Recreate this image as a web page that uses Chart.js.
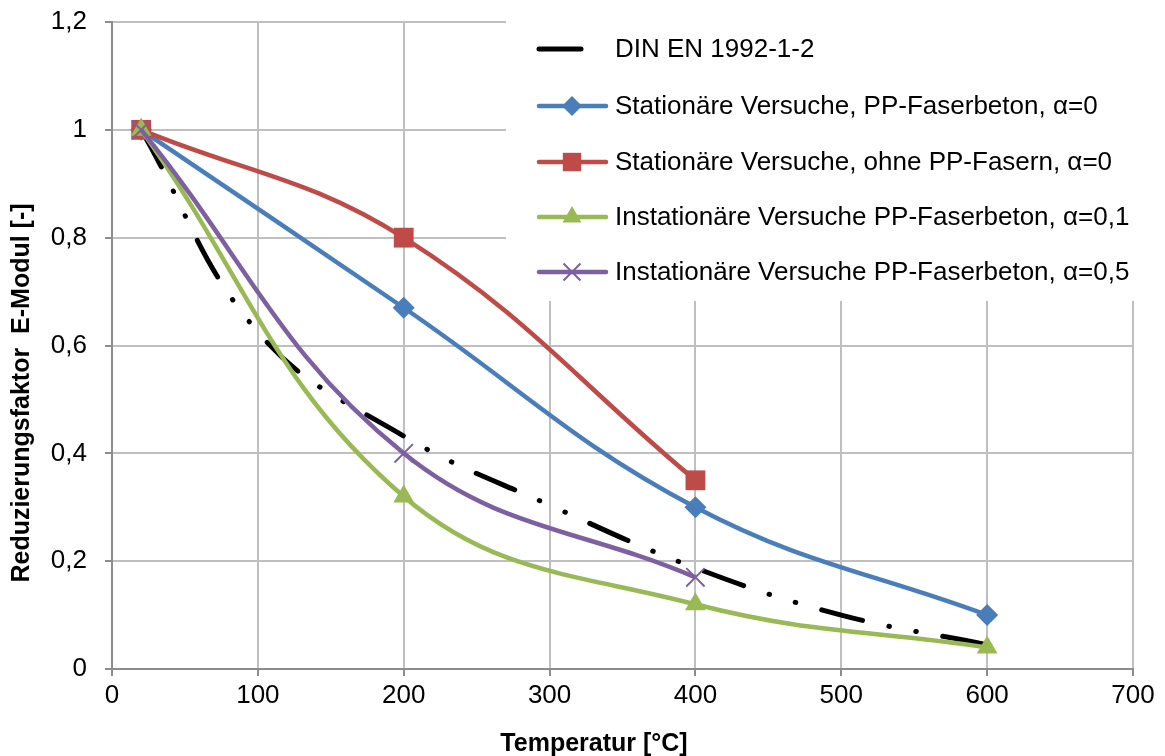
<!DOCTYPE html>
<html>
<head>
<meta charset="utf-8">
<script src="https://cdn.jsdelivr.net/npm/chart.js@4/dist/chart.umd.min.js"></script>
<style>
    html, body { margin: 0; padding: 0; background: #fff; }
    #wrap { width: 1165px; height: 756px; }
</style>
</head>
<body>
<div id="wrap"><canvas id="chart" width="1165" height="756"></canvas></div>
<script>
// Werte
const legendLabels = [
    'DIN EN 1992-1-2',
    'Stationäre Versuche, PP-Faserbeton, α=0',
    'Stationäre Versuche, ohne PP-Fasern, α=0',
    'Instationäre Versuche PP-Faserbeton, α=0,1',
    'Instationäre Versuche PP-Faserbeton, α=0,5'
];
const dinTemp = [20, 100, 200, 300, 400, 500, 600];
const dinWerte = [1, 0.625, 0.432, 0.304, 0.1875, 0.1, 0.045];
const statPPTemp = [20, 200, 400, 600];
const statPPWerte = [1, 0.67, 0.3, 0.1];
const statOhneTemp = [20, 200, 400];
const statOhneWerte = [1, 0.8, 0.35];
const instat01Temp = [20, 200, 400, 600];
const instat01Werte = [1, 0.32, 0.12, 0.04];
const instat05Temp = [20, 200, 400];
const instat05Werte = [1, 0.4, 0.17];
const xTicks = [0, 100, 200, 300, 400, 500, 600, 700];
const yTicks = [0, 0.2, 0.4, 0.6, 0.8, 1, 1.2];

const xTitel = 'Temperatur [°C]';
const yTitel = 'Reduzierungsfaktor  E-Modul [-]';

function punkte(xs, ys) {
    return xs.map((x, i) => ({ x: x, y: ys[i] }));
}

const dinDash = [42, 27, 0.5, 27, 0.5, 27];

const datasets = [
    {
        label: legendLabels[0],
        data: punkte(dinTemp, dinWerte),
        borderColor: '#000000',
        borderWidth: 5,
        borderDash: dinDash,
        borderCapStyle: 'round',
        pointRadius: 0,
        tension: 0.4,
        order: 5
    },
    {
        label: legendLabels[1],
        data: punkte(statPPTemp, statPPWerte),
        borderColor: '#4A7EBB',
        backgroundColor: '#4A7EBB',
        borderWidth: 4.5,
        pointStyle: 'rectRot',
        pointRadius: 11,
        pointBorderWidth: 0,
        tension: 0.4,
        order: 4
    },
    {
        label: legendLabels[2],
        data: punkte(statOhneTemp, statOhneWerte),
        borderColor: '#BE4B48',
        backgroundColor: '#BE4B48',
        borderWidth: 4.5,
        pointStyle: 'rect',
        pointRadius: 14,
        pointBorderWidth: 0,
        tension: 0.4,
        order: 3
    },
    {
        label: legendLabels[3],
        data: punkte(instat01Temp, instat01Werte),
        borderColor: '#98B954',
        backgroundColor: '#98B954',
        borderWidth: 4.5,
        pointStyle: 'triangle',
        pointRadius: 12,
        pointBorderWidth: 0,
        tension: 0.4,
        order: 2
    },
    {
        label: legendLabels[4],
        data: punkte(instat05Temp, instat05Werte),
        borderColor: '#7D60A0',
        backgroundColor: '#7D60A0',
        borderWidth: 4.5,
        pointStyle: 'crossRot',
        pointRadius: 13,
        pointBorderWidth: 2,
        tension: 0.4,
        order: 1
    }
];

// Legende im Diagramm + Achsentitel
const legendePlugin = {
    id: 'legende',
    afterDatasetsDraw(chart) {
        const ctx = chart.ctx;
        ctx.save();
        ctx.fillStyle = '#ffffff';
        ctx.fillRect(506, 20, 660, 281);
        const zeilen = [49, 106, 162, 217, 272];
        datasets.forEach((ds, i) => {
            const y = zeilen[i];
            ctx.save();
            ctx.strokeStyle = ds.borderColor;
            ctx.lineWidth = ds.borderWidth;
            ctx.lineCap = 'round';
            if (ds.borderDash) ctx.setLineDash(ds.borderDash);
            ctx.beginPath();
            ctx.moveTo(539, y);
            ctx.lineTo(606, y);
            ctx.stroke();
            ctx.restore();
            if (ds.pointRadius > 0) {
                ctx.save();
                ctx.fillStyle = ds.backgroundColor;
                ctx.strokeStyle = ds.borderColor;
                ctx.lineWidth = ds.pointBorderWidth || 0.001;
                Chart.helpers.drawPoint(ctx, {
                    pointStyle: ds.pointStyle,
                    radius: ds.pointRadius - 1,
                    borderWidth: ds.pointBorderWidth,
                    rotation: 0
                }, 572, y);
                ctx.restore();
            }
            ctx.fillStyle = '#000000';
            ctx.font = '26px "Liberation Sans", Arial, sans-serif';
            ctx.textBaseline = 'middle';
            ctx.textAlign = 'left';
            ctx.fillText(ds.label, 615, y + 1);
        });

        ctx.font = 'bold 25px "Liberation Sans", Arial, sans-serif';
        ctx.fillStyle = '#000000';
        ctx.textAlign = 'center';
        ctx.textBaseline = 'middle';
        ctx.fillText(xTitel, 594, 744);
        ctx.translate(22, 393);
        ctx.rotate(-Math.PI / 2);
        ctx.fillText(yTitel, 0, 0);
        ctx.restore();
    }
};

const tickFont = { family: '"Liberation Sans", Arial, sans-serif', size: 26 };

new Chart(document.getElementById('chart'), {
    type: 'line',
    data: { datasets: datasets },
    options: {
        responsive: false,
        animation: false,
        layout: { padding: { top: 22, right: 32, left: 0, bottom: 0 } },
        plugins: {
            legend: { display: false },
            tooltip: { enabled: false }
        },
        scales: {
            x: {
                type: 'linear',
                min: 0,
                max: 700,
                afterFit: (scale) => {
                    scale.height = 87;
                    scale.paddingLeft = 0;
                    scale.paddingRight = 0;
                },
                afterBuildTicks: (scale) => { scale.ticks = xTicks.map(v => ({ value: v })); },
                ticks: {
                    font: tickFont,
                    color: '#000000',
                    padding: 4,
                    maxRotation: 0,
                    callback: (v) => String(v)
                },
                grid: {
                    color: '#BFBFBF',
                    lineWidth: 2,
                    tickLength: 7,
                    tickColor: '#8C8C8C'
                },
                border: { color: '#8C8C8C', width: 2 }
            },
            y: {
                min: 0,
                max: 1.2,
                afterFit: (scale) => {
                    scale.width = 112;
                    scale.paddingTop = 0;
                    scale.paddingBottom = 0;
                },
                afterBuildTicks: (scale) => { scale.ticks = yTicks.map(v => ({ value: v })); },
                ticks: {
                    font: tickFont,
                    color: '#000000',
                    padding: 18,
                    callback: (v) => String(Math.round(v * 10) / 10).replace('.', ',')
                },
                grid: {
                    color: '#BFBFBF',
                    lineWidth: 2,
                    tickLength: 7,
                    tickColor: '#8C8C8C'
                },
                border: { color: '#8C8C8C', width: 2 }
            }
        }
    },
    plugins: [legendePlugin]
});
</script>
</body>
</html>
